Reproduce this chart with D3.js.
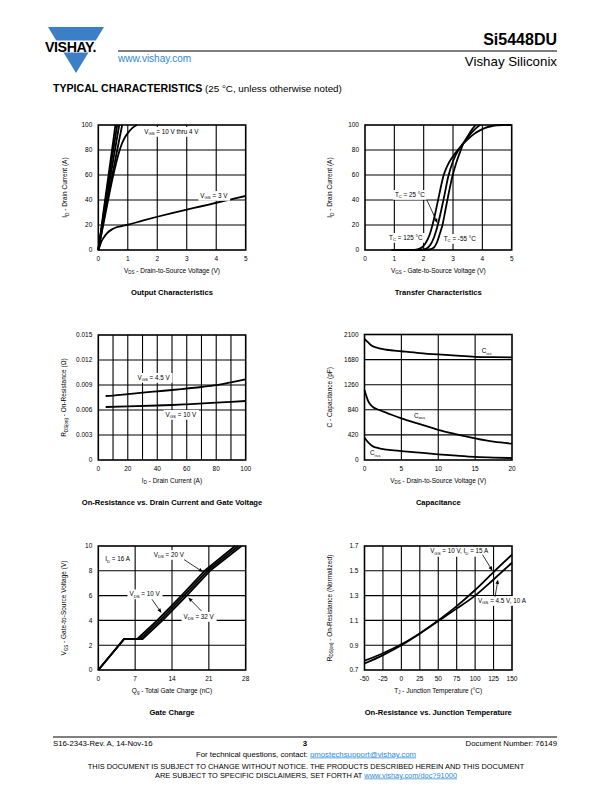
<!DOCTYPE html>
<html><head><meta charset="utf-8">
<script src="https://cdn.jsdelivr.net/npm/d3@7"></script>
<style>
body{margin:0;background:#fff}
svg{display:block}
text{font-family:"Liberation Sans",Arial,Helvetica,sans-serif;fill:#000}
</style>
</head><body>
<svg id="page" width="612" height="792"></svg>
<script>
// ---------- DATA ----------
// Output characteristics: [VDS (V), ID (A)]
const outVgs10 = [[0,0],[0.1,17],[0.2,35],[0.3,52],[0.4,69],[0.5,86],[0.58,100]];
const outVgs7  = [[0,0],[0.1,16],[0.2,32],[0.3,48],[0.4,63],[0.5,79],[0.64,100]];
const outVgs5  = [[0,0],[0.1,15],[0.2,29],[0.3,43],[0.4,57],[0.5,71],[0.6,85],[0.71,100]];
const outVgs45 = [[0,0],[0.1,13],[0.2,26],[0.3,39],[0.4,51],[0.5,63],[0.6,75],[0.7,87],[0.81,100]];
const outVgs4  = [[0,0],[0.1,12],[0.2,24],[0.3,36],[0.4,48],[0.5,59],[0.6,69],[0.7,78],[0.8,85],[0.9,90],[1.0,93.5],[1.15,97.5],[1.31,100]];
const outVgs3  = [[0,0],[0.05,3],[0.1,6.5],[0.2,10.5],[0.3,13.5],[0.45,16.3],[0.6,18],[0.8,19.2],[1,20.2],[1.5,23.5],[2,26.6],[2.5,29.5],[3,32.3],[3.5,35],[4,37.8],[4.5,40.5],[5,43.2]];
// Transfer characteristics: [VGS (V), ID (A)]
const trTc125 = [[0.9,0],[1.7,0.1],[1.9,1.5],[2.05,5],[2.2,12],[2.3,20],[2.4,30],[2.5,41],[2.6,52],[2.67,59],[2.8,67],[3.0,75],[3.2,81],[3.35,85],[3.5,88.5],[3.7,92.5],[3.9,95.5],[4.1,97.7],[4.3,99],[4.5,99.8],[4.7,100],[5,100]];
const trTc25  = [[1.5,0],[2.0,0.4],[2.15,2],[2.25,5],[2.35,10],[2.48,20],[2.6,32],[2.7,43],[2.84,59],[3.0,71],[3.2,80.5],[3.35,85.5],[3.5,90],[3.7,95.5],[3.85,98.8],[3.93,100]];
const trTcM55 = [[1.8,0],[2.2,0.4],[2.35,2],[2.45,6],[2.55,13],[2.64,20],[2.75,33],[2.85,45],[2.98,59],[3.1,69],[3.25,79],[3.35,85],[3.5,91],[3.65,96.5],[3.77,100]];
// On-resistance vs drain current: [ID (A), RDS(on) (ohm)]
const rdsVgs45 = [[5,0.00768],[10,0.00772],[20,0.0079],[30,0.00808],[40,0.00824],[50,0.0084],[60,0.00858],[70,0.00876],[80,0.00898],[90,0.00932],[100,0.00968]];
const rdsVgs10 = [[5,0.00636],[20,0.00643],[40,0.00654],[50,0.0066],[60,0.00668],[80,0.00688],[100,0.00708]];
// Capacitance: [VDS (V), C (pF)]
const capCiss = [[0,2025],[0.5,1967],[1,1911],[2,1868],[3,1845],[5,1820],[7.5,1790],[10,1766],[12.5,1745],[15,1727],[17.5,1720],[20,1716]];
const capCoss = [[0,1170],[0.5,986],[1,902],[2,836],[3,790],[5,696],[7.5,600],[10,505],[12.5,430],[15,362],[17.5,306],[20,273]];
const capCrss = [[0,373],[0.5,295],[1,240],[2,195],[3,175],[5,150],[7.5,122],[10,95],[12.5,72],[15,52],[17.5,40],[20,33]];
// Gate charge: [Qg (nC), VGS (V)]
const qgVds10 = [[0,0],[4.9,2.5],[7.4,2.5],[11.2,4],[15.8,6],[20.2,8],[26.0,10]];
const qgVds20 = [[0,0],[4.9,2.5],[7.9,2.5],[11.7,4],[16.3,6],[20.7,8],[26.6,10]];
const qgVds32 = [[0,0],[4.9,2.5],[8.4,2.5],[12.2,4],[16.8,6],[21.2,8],[27.2,10]];
// On-resistance vs junction temperature: [TJ (°C), normalized RDS(on)]
const tjVgs10 = [[-50,0.752],[-25,0.82],[0,0.9],[25,0.995],[50,1.1],[75,1.215],[100,1.345],[125,1.49],[150,1.63]];
const tjVgs45 = [[-50,0.775],[-25,0.835],[0,0.907],[25,0.995],[50,1.095],[75,1.195],[100,1.3],[125,1.43],[150,1.565]];
// Tick labels
const ticksOutX = [0,1,2,3,4,5], ticksOutY = [0,20,40,60,80,100];
const ticksRdsX = [0,20,40,60,80,100], gridRdsX = [10,20,30,40,50,60,70,80,90];
const ticksRdsY = [0,0.003,0.006,0.009,0.012,0.015];
const ticksCapX = [0,5,10,15,20], ticksCapY = [0,420,840,1260,1680,2100];
const ticksQgX = [0,7,14,21,28], ticksQgY = [0,2,4,6,8,10];
const ticksTjX = [-50,-25,0,25,50,75,100,125,150], ticksTjY = [0.7,0.9,1.1,1.3,1.5,1.7];

// ---------- DRAWING ----------
const svg = d3.select('#page');
const FS_TICK = 6.5, FS_AX = 6.5, FS_TITLE = 7.6, FS_LBL = 6.3;

function rich(t, str, fs){
  const parts = str.split(/(_\{[^}]*\})/).filter(s=>s.length);
  let sub=false;
  parts.forEach(p=>{
    if(p.startsWith('_{')){
      t.append('tspan').attr('font-size',fs*0.68).attr('dy',sub?0:fs*0.28).text(p.slice(2,-1));
      sub=true;
    } else {
      t.append('tspan').attr('font-size',fs).attr('dy',sub?-fs*0.28:0).text(p);
      sub=false;
    }
  });
  return t;
}

function chart(c){
  const g = svg.append('g');
  const x = d3.scaleLinear().domain(c.xd).range([c.L,c.R]);
  const y = d3.scaleLinear().domain(c.yd).range([c.B,c.T]);
  const gx = c.xGrid || c.xTicks, gy = c.yGrid || c.yTicks;
  g.append('g').selectAll('line').data(gx.filter(v=>v!==c.xd[0]&&v!==c.xd[1])).join('line')
    .attr('x1',d=>x(d)).attr('x2',d=>x(d)).attr('y1',c.T).attr('y2',c.B)
    .attr('stroke','#000').attr('stroke-width',1.1);
  g.append('g').selectAll('line').data(gy.filter(v=>v!==c.yd[0]&&v!==c.yd[1])).join('line')
    .attr('y1',d=>y(d)).attr('y2',d=>y(d)).attr('x1',c.L).attr('x2',c.R)
    .attr('stroke','#000').attr('stroke-width',1.1);
  const line = d3.line().x(d=>x(d[0])).y(d=>y(d[1])).curve(c.curve||d3.curveMonotoneX);
  const cg = g.append('g');
  c.series.forEach(s=>{
    cg.append('path').attr('d',line(s)).attr('fill','none').attr('stroke','#000')
      .attr('stroke-width',c.sw||1.8).attr('stroke-linejoin','round');
  });
  g.append('rect').attr('x',c.L).attr('y',c.T).attr('width',c.R-c.L).attr('height',c.B-c.T)
    .attr('fill','none').attr('stroke','#000').attr('stroke-width',1.6);
  (c.labels||[]).forEach(l=>{
    const lg = svg.append('g');
    const t = lg.append('text').attr('x',x(l.x)).attr('y',y(l.y)).attr('text-anchor',l.anchor||'middle');
    rich(t,l.text,FS_LBL);
    if(l.box!==false){
      const bb = t.node().getBBox();
      lg.insert('rect','text').attr('x',bb.x-2).attr('y',bb.y-0.5).attr('width',bb.width+4).attr('height',bb.height+1).attr('fill','#fff');
    }
  });
  (c.arrows||[]).forEach(a=>{
    const x1=x(a[0]),y1=y(a[1]),x2=x(a[2]),y2=y(a[3]);
    const ang=Math.atan2(y2-y1,x2-x1), hl=4.5, hw=1.8;
    const bx=x2-hl*Math.cos(ang), by=y2-hl*Math.sin(ang);
    svg.append('line').attr('x1',x1).attr('y1',y1).attr('x2',bx).attr('y2',by).attr('stroke','#000').attr('stroke-width',0.8);
    svg.append('path').attr('d',`M${x2},${y2}L${bx-hw*Math.sin(ang)},${by+hw*Math.cos(ang)}L${bx+hw*Math.sin(ang)},${by-hw*Math.cos(ang)}Z`).attr('fill','#000');
  });
  g.append('g').selectAll('text').data(c.xTicks).join('text')
    .attr('x',d=>x(d)).attr('y',c.B+11).attr('text-anchor','middle').attr('font-size',FS_TICK).text(c.xf||(d=>d));
  g.append('g').selectAll('text').data(c.yTicks).join('text')
    .attr('x',c.L-6).attr('y',d=>y(d)+2.3).attr('text-anchor','end').attr('font-size',FS_TICK).text(c.yf||(d=>d));
  rich(g.append('text').attr('x',(c.L+c.R)/2).attr('y',c.B+22.5).attr('text-anchor','middle'),c.xTitle,FS_AX);
  const ty=(c.T+c.B)/2, tx=c.L-c.yOff;
  rich(g.append('text').attr('x',tx).attr('y',ty).attr('text-anchor','middle').attr('transform',`rotate(-90,${tx},${ty})`),c.yTitle,FS_AX);
  g.append('text').attr('x',(c.L+c.R)/2).attr('y',c.B+45).attr('text-anchor','middle')
    .attr('font-size',FS_TITLE).attr('font-weight','bold').text(c.title);
}

// Header
svg.append('polygon').attr('points','48,27 104,27 76,73').attr('fill','#3d7fc6');
svg.append('rect').attr('x',42).attr('y',40.5).attr('width',66).attr('height',12).attr('fill','#fff');
svg.append('text').attr('x',45).attr('y',51.5).attr('font-size',14.2).attr('font-weight','bold').attr('letter-spacing',-0.4).text('VISHAY.');
svg.append('line').attr('x1',118).attr('x2',557).attr('y1',51).attr('y2',51).attr('stroke','#000').attr('stroke-width',1);
svg.append('text').attr('x',118).attr('y',61.5).attr('font-size',10).style('fill','#2b8ad6').text('www.vishay.com');
svg.append('text').attr('x',557).attr('y',45).attr('text-anchor','end').attr('font-size',16).attr('font-weight','bold').text('Si5448DU');
svg.append('text').attr('x',557).attr('y',66).attr('text-anchor','end').attr('font-size',13.3).text('Vishay Siliconix');
const h2 = svg.append('text').attr('x',53).attr('y',91.5);
h2.append('tspan').attr('font-size',10.6).attr('font-weight','bold').text('TYPICAL CHARACTERISTICS');
h2.append('tspan').attr('font-size',9.8).text(' (25 °C, unless otherwise noted)');

// Charts
chart({L:98.3,R:245.7,T:125,B:250,xd:[0,5],yd:[0,100],xTicks:ticksOutX,yTicks:ticksOutY,yOff:31.5,
  series:[outVgs10,outVgs7,outVgs5,outVgs45,outVgs4,outVgs3],
  xTitle:'V_{DS} - Drain-to-Source Voltage (V)',yTitle:'I_{D} - Drain Current (A)',title:'Output Characteristics',
  labels:[{text:'V_{GS} = 10 V thru 4 V',x:2.48,y:93.2},{text:'V_{GS} = 3 V',x:3.92,y:42}]});

chart({L:365,R:511.7,T:125,B:250,xd:[0,5],yd:[0,100],xTicks:ticksOutX,yTicks:ticksOutY,yOff:33,
  series:[trTc125,trTc25,trTcM55],
  xTitle:'V_{GS} - Gate-to-Source Voltage (V)',yTitle:'I_{D} - Drain Current (A)',title:'Transfer Characteristics',
  labels:[{text:'T_{C} = 25 °C',x:1.53,y:42.8},{text:'T_{C} = 125 °C',x:1.39,y:8.4},{text:'T_{C} = -55 °C',x:3.23,y:7.6}],
  arrows:[[2.1,40.5,2.47,21.5]]});

chart({L:98.3,R:245.7,T:335,B:460,xd:[0,100],yd:[0,0.015],xTicks:ticksRdsX,xGrid:gridRdsX,yTicks:ticksRdsY,yOff:32,
  yf:d=>d===0?'0':d3.format('.3f')(d),
  series:[rdsVgs45,rdsVgs10],
  xTitle:'I_{D} - Drain Current (A)',yTitle:'R_{DS(on)} - On-Resistance (Ω)',title:'On-Resistance vs. Drain Current and Gate Voltage',
  labels:[{text:'V_{GS} = 4.5 V',x:37.5,y:0.00966},{text:'V_{GS} = 10 V',x:56,y:0.00522}]});

chart({L:364.5,R:512,T:334.5,B:460,xd:[0,20],yd:[0,2100],xTicks:ticksCapX,yTicks:ticksCapY,yOff:33,
  series:[capCiss,capCoss,capCrss],
  xTitle:'V_{DS} - Drain-to-Source Voltage (V)',yTitle:'C - Capacitance (pF)',title:'Capacitance',
  labels:[{text:'C_{iss}',x:15.9,y:1792,anchor:'start',box:false},{text:'C_{oss}',x:6.7,y:708,anchor:'start',box:false},{text:'C_{rss}',x:0.75,y:83,anchor:'start',box:false}]});

chart({L:98.3,R:245.7,T:546,B:670,xd:[0,28],yd:[0,10],xTicks:ticksQgX,yTicks:ticksQgY,yOff:32,sw:1.9,curve:d3.curveLinear,
  series:[qgVds10,qgVds20,qgVds32],
  xTitle:'Q_{g} - Total Gate Charge (nC)',yTitle:'V_{GS} - Gate-to-Source Voltage (V)',title:'Gate Charge',
  labels:[{text:'I_{D} = 16 A',x:1.32,y:8.79,anchor:'start'},{text:'V_{DS} = 20 V',x:13.4,y:9.15},{text:'V_{DS} = 10 V',x:8.8,y:5.97},{text:'V_{DS} = 32 V',x:19.07,y:4.15}],
  arrows:[[16.3,8.9,19.9,7.9],[10.2,5.7,12.0,4.6],[19.6,4.75,17.1,5.85]]});

chart({L:364.5,R:512,T:546,B:670,xd:[-50,150],yd:[0.7,1.7],xTicks:ticksTjX,yTicks:ticksTjY,yOff:33,
  yf:d=>d3.format('.1f')(d),
  series:[tjVgs10,tjVgs45],
  xTitle:'T_{J} - Junction Temperature (°C)',yTitle:'R_{DS(on)} - On-Resistance (Normalized)',title:'On-Resistance vs. Junction Temperature',
  labels:[{text:'V_{GS} = 10 V, I_{D} = 15 A',x:78.4,y:1.64},{text:'V_{GS} = 4.5 V, 10 A',x:104,y:1.244,anchor:'start'}],
  arrows:[[110,1.63,123.5,1.50],[127,1.29,131,1.43]]});

// Footer
svg.append('line').attr('x1',53).attr('x2',557).attr('y1',737).attr('y2',737).attr('stroke','#000').attr('stroke-width',1);
svg.append('text').attr('x',53).attr('y',745.5).attr('font-size',7.8).text('S16-2343-Rev. A, 14-Nov-16');
svg.append('text').attr('x',305).attr('y',746).attr('font-size',7.8).attr('font-weight','bold').attr('text-anchor','middle').text('3');
svg.append('text').attr('x',557).attr('y',745.5).attr('font-size',7.8).attr('text-anchor','end').text('Document Number: 76149');
const f2 = svg.append('text').attr('x',306).attr('y',756.5).attr('font-size',7.8).attr('text-anchor','middle');
f2.append('tspan').text('For technical questions, contact: ');
f2.append('tspan').style('fill','#2b8ad6').attr('text-decoration','underline').text('pmostechsupport@vishay.com');
svg.append('text').attr('x',306).attr('y',768.5).attr('font-size',7.4).attr('text-anchor','middle')
  .text('THIS DOCUMENT IS SUBJECT TO CHANGE WITHOUT NOTICE. THE PRODUCTS DESCRIBED HEREIN AND THIS DOCUMENT');
const f4 = svg.append('text').attr('x',306).attr('y',777.5).attr('font-size',7.4).attr('text-anchor','middle');
f4.append('tspan').text('ARE SUBJECT TO SPECIFIC DISCLAIMERS, SET FORTH AT ');
f4.append('tspan').style('fill','#2b8ad6').attr('text-decoration','underline').text('www.vishay.com/doc?91000');
</script>
</body></html>
